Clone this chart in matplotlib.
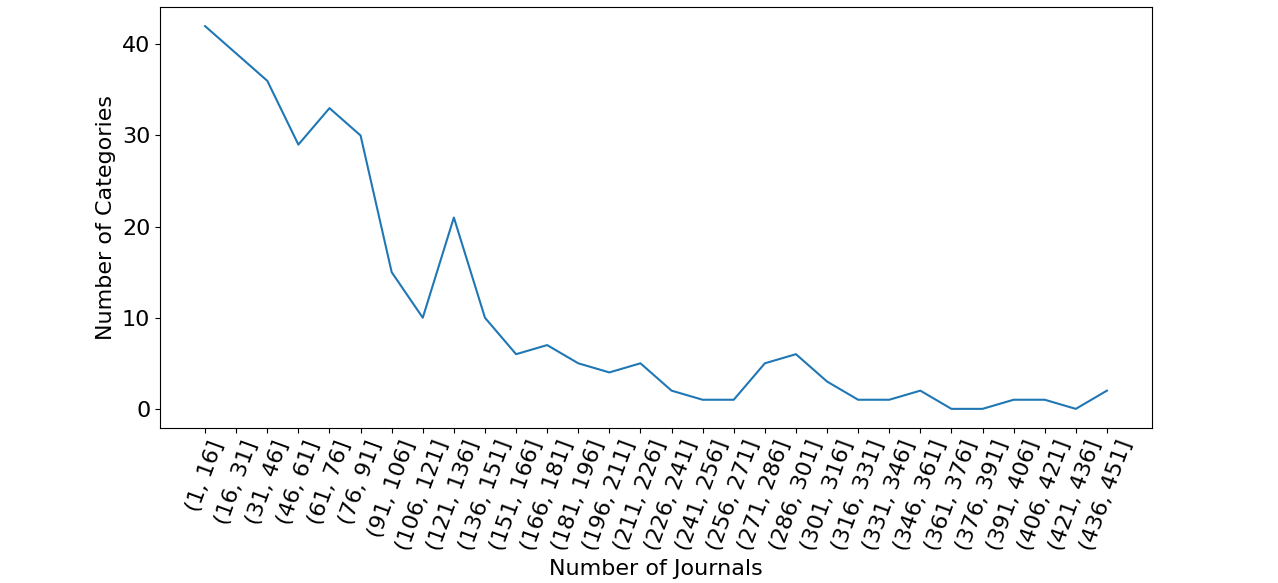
import matplotlib
matplotlib.use("Agg")
import matplotlib.pyplot as plt

# bins of journals per category
bin_labels = ["(%d, %d]" % (lo, lo + 15) for lo in range(1, 437, 15)]
n_categories = [42, 39, 36, 29, 33, 30, 15, 10, 21, 10,
                6, 7, 5, 4, 5, 2, 1, 1, 5, 6,
                3, 1, 1, 2, 0, 0, 1, 1, 0, 2]

plt.rcParams['font.size'] = 16

fig = plt.figure(figsize=(12.78, 5.83), dpi=100)
ax1 = fig.add_axes([160/1278, 1 - 428/583, (1152-160)/1278, (428-7)/583])

ax1.plot(bin_labels, n_categories, color='#1f77b4')
ax1.set_xticks(range(len(bin_labels)))
ax1.set_xticklabels(bin_labels, rotation=70)
ax1.set_yticks([0, 10, 20, 30, 40])
ax1.set_xlabel('Number of Journals')
ax1.set_ylabel('Number of Categories')

fig.savefig('out.png', dpi=100)
